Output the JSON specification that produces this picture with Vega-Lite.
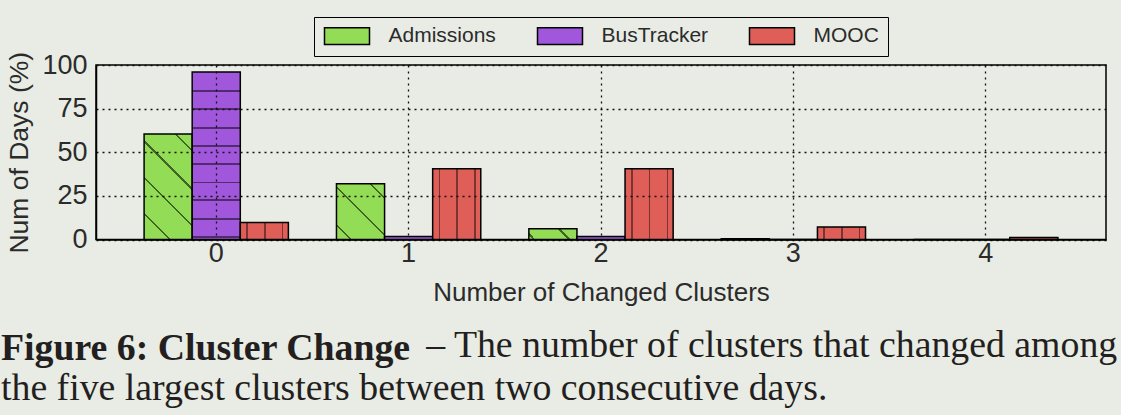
{
  "$schema": "https://vega.github.io/schema/vega-lite/v6.json",
  "width": 1010,
  "height": 174.5,
  "autosize": {"type": "none"},
  "padding": {"left": 96, "top": 65, "right": 15, "bottom": 175.5},
  "background": "#e8ece4",
  "config": {
    "view": {"stroke": "black", "strokeWidth": 1.5},
    "font": "Liberation Sans"
  },
  "title": {
    "text": "Figure 6: Cluster Change",
    "subtitle": ["\u200b\u00a0\u00a0\u00a0\u00a0\u00a0\u00a0\u00a0\u00a0\u00a0\u00a0\u00a0\u00a0\u00a0\u00a0\u00a0\u00a0\u00a0\u00a0\u00a0\u00a0\u00a0\u00a0\u00a0\u00a0\u00a0\u00a0\u00a0\u00a0\u00a0\u00a0\u00a0\u00a0\u00a0\u00a0\u00a0\u00a0\u00a0\u00a0\u00a0\u00a0\u00a0\u00a0\u00a0\u00a0\u00a0– The number of clusters that changed among", "the five largest clusters between two consecutive days."],
    "orient": "bottom",
    "anchor": "start",
    "frame": "group",
    "dx": -95,
    "offset": 24,
    "font": "Liberation Serif",
    "fontSize": 37.8,
    "fontWeight": "bold",
    "lineHeight": 40,
    "color": "#231f20",
    "subtitleFont": "Liberation Serif",
    "subtitleFontSize": 37.8,
    "subtitleFontWeight": "normal",
    "subtitleColor": "#231f20",
    "subtitleLineHeight": 43,
    "subtitlePadding": -40
  },
  "data": {
    "values": [
      {"clusters": "0", "dataset": "Admissions", "pct": 60.5},
      {"clusters": "0", "dataset": "BusTracker", "pct": 96},
      {"clusters": "0", "dataset": "MOOC", "pct": 9.7},
      {"clusters": "1", "dataset": "Admissions", "pct": 32},
      {"clusters": "1", "dataset": "BusTracker", "pct": 1.7},
      {"clusters": "1", "dataset": "MOOC", "pct": 40.6},
      {"clusters": "2", "dataset": "Admissions", "pct": 6.1},
      {"clusters": "2", "dataset": "BusTracker", "pct": 1.7},
      {"clusters": "2", "dataset": "MOOC", "pct": 40.6},
      {"clusters": "3", "dataset": "Admissions", "pct": 0.5},
      {"clusters": "3", "dataset": "BusTracker", "pct": 0},
      {"clusters": "3", "dataset": "MOOC", "pct": 7.2},
      {"clusters": "4", "dataset": "Admissions", "pct": 0},
      {"clusters": "4", "dataset": "BusTracker", "pct": 0},
      {"clusters": "4", "dataset": "MOOC", "pct": 1.2}
    ]
  },
  "encoding": {
    "x": {
      "field": "clusters",
      "type": "nominal",
      "title": "Number of Changed Clusters",
      "scale": {"domain": ["0", "1", "2", "3", "4"], "paddingInner": 0.25, "paddingOuter": 0.25},
      "axis": {
        "zindex": 1,
        "labelAngle": 0,
        "bandPosition": 0.5,
        "ticks": false,
        "domain": true,
        "domainColor": "black",
        "domainWidth": 1.5,
        "grid": true,
        "gridColor": "#111111",
        "gridDash": [2, 4],
        "gridWidth": 1.3,
        "labelFontSize": 27,
        "labelColor": "#2b2b2b",
        "labelPadding": 1,
        "titleFontSize": 26,
        "titleFontWeight": "normal",
        "titleColor": "#2b2b2b",
        "titlePadding": 13
      }
    },
    "xOffset": {
      "field": "dataset",
      "type": "nominal",
      "scale": {"domain": ["Admissions", "BusTracker", "MOOC"], "paddingInner": 0, "paddingOuter": 0}
    },
    "y": {
      "field": "pct",
      "type": "quantitative",
      "title": "Num of Days (%)",
      "scale": {"domain": [0, 100], "nice": false},
      "axis": {
        "zindex": 1,
        "values": [0, 25, 50, 75, 100],
        "ticks": false,
        "domain": true,
        "domainColor": "black",
        "domainWidth": 1.5,
        "grid": true,
        "gridColor": "#111111",
        "gridDash": [2, 4],
        "gridWidth": 1.3,
        "labelFontSize": 27,
        "labelColor": "#2b2b2b",
        "labelPadding": 9,
        "titleFontSize": 26.5,
        "titleFontWeight": "normal",
        "titleColor": "#2b2b2b",
        "titlePadding": 8
      }
    }
  },
  "layer": [
    {
      "mark": {"type": "bar", "stroke": "black", "strokeWidth": 1.5},
      "encoding": {
        "color": {
          "field": "dataset",
          "type": "nominal",
          "scale": {"domain": ["Admissions", "BusTracker", "MOOC"], "range": ["#93dc56", "#a057db", "#df5e58"]},
          "legend": {
            "orient": "none",
            "legendX": 218,
            "legendY": -48,
            "direction": "horizontal",
            "title": null,
            "symbolType": "M-1,-0.982H4.294V0.982H-1Z",
            "symbolSize": 289,
            "symbolStrokeColor": "black",
            "symbolStrokeWidth": 1.5,
            "symbolOpacity": 1,
            "labelFontSize": 21,
            "labelColor": "#2b2b2b",
            "labelOffset": 45,
            "columnPadding": 38,
            "padding": 8.5,
            "strokeColor": "black",
            "fillColor": "#e8ece4"
          }
        }
      }
    },
    {
      "transform": [{"filter": "datum.dataset == 'BusTracker' && datum.pct > 50"}],
      "mark": {
        "type": "bar",
        "strokeWidth": 0,
        "fill": {
          "gradient": "linear", "x1": 0, "y1": 0, "x2": 0, "y2": 1,
          "stops": [
            {"offset": 0, "color": "rgba(0,0,0,0)"},
            {"offset": 0.109, "color": "rgba(0,0,0,0)"}, {"offset": 0.109, "color": "rgba(0,0,0,0.5)"}, {"offset": 0.119, "color": "rgba(0,0,0,0.5)"}, {"offset": 0.119, "color": "rgba(0,0,0,0)"},
            {"offset": 0.218, "color": "rgba(0,0,0,0)"}, {"offset": 0.218, "color": "rgba(0,0,0,0.5)"}, {"offset": 0.228, "color": "rgba(0,0,0,0.5)"}, {"offset": 0.228, "color": "rgba(0,0,0,0)"},
            {"offset": 0.328, "color": "rgba(0,0,0,0)"}, {"offset": 0.328, "color": "rgba(0,0,0,0.5)"}, {"offset": 0.338, "color": "rgba(0,0,0,0.5)"}, {"offset": 0.338, "color": "rgba(0,0,0,0)"},
            {"offset": 0.436, "color": "rgba(0,0,0,0)"}, {"offset": 0.436, "color": "rgba(0,0,0,0.5)"}, {"offset": 0.446, "color": "rgba(0,0,0,0.5)"}, {"offset": 0.446, "color": "rgba(0,0,0,0)"},
            {"offset": 0.544, "color": "rgba(0,0,0,0)"}, {"offset": 0.544, "color": "rgba(0,0,0,0.5)"}, {"offset": 0.554, "color": "rgba(0,0,0,0.5)"}, {"offset": 0.554, "color": "rgba(0,0,0,0)"},
            {"offset": 0.654, "color": "rgba(0,0,0,0)"}, {"offset": 0.654, "color": "rgba(0,0,0,0.5)"}, {"offset": 0.664, "color": "rgba(0,0,0,0.5)"}, {"offset": 0.664, "color": "rgba(0,0,0,0)"},
            {"offset": 0.761, "color": "rgba(0,0,0,0)"}, {"offset": 0.761, "color": "rgba(0,0,0,0.5)"}, {"offset": 0.771, "color": "rgba(0,0,0,0.5)"}, {"offset": 0.771, "color": "rgba(0,0,0,0)"},
            {"offset": 0.871, "color": "rgba(0,0,0,0)"}, {"offset": 0.871, "color": "rgba(0,0,0,0.5)"}, {"offset": 0.881, "color": "rgba(0,0,0,0.5)"}, {"offset": 0.881, "color": "rgba(0,0,0,0)"},
            {"offset": 0.981, "color": "rgba(0,0,0,0)"}, {"offset": 0.981, "color": "rgba(0,0,0,0.5)"}, {"offset": 0.991, "color": "rgba(0,0,0,0.5)"}, {"offset": 0.991, "color": "rgba(0,0,0,0)"},
            {"offset": 1, "color": "rgba(0,0,0,0)"}
          ]
        }
      }
    },
    {
      "transform": [{"filter": "datum.dataset == 'MOOC' && datum.pct > 3"}],
      "mark": {
        "type": "bar",
        "strokeWidth": 0,
        "fill": {
          "gradient": "linear", "x1": 0, "y1": 0, "x2": 1, "y2": 0,
          "stops": [
            {"offset": 0, "color": "rgba(0,0,0,0)"},
            {"offset": 0.125, "color": "rgba(0,0,0,0)"}, {"offset": 0.125, "color": "rgba(0,0,0,0.45)"}, {"offset": 0.155, "color": "rgba(0,0,0,0.45)"}, {"offset": 0.155, "color": "rgba(0,0,0,0)"},
            {"offset": 0.495, "color": "rgba(0,0,0,0)"}, {"offset": 0.495, "color": "rgba(0,0,0,0.45)"}, {"offset": 0.525, "color": "rgba(0,0,0,0.45)"}, {"offset": 0.525, "color": "rgba(0,0,0,0)"},
            {"offset": 0.865, "color": "rgba(0,0,0,0)"}, {"offset": 0.865, "color": "rgba(0,0,0,0.45)"}, {"offset": 0.895, "color": "rgba(0,0,0,0.45)"}, {"offset": 0.895, "color": "rgba(0,0,0,0)"},
            {"offset": 1, "color": "rgba(0,0,0,0)"}
          ]
        }
      }
    },
    {
      "transform": [{"filter": "datum.dataset == 'Admissions' && datum.clusters == '0'"}],
      "mark": {
        "type": "bar",
        "strokeWidth": 0,
        "fill": {
          "gradient": "linear", "x1": 0, "y1": 1, "x2": 0.549, "y2": -0.205,
          "stops": [
            {"offset": 0, "color": "rgba(0,0,0,0)"},
            {"offset": 0.160, "color": "rgba(0,0,0,0)"}, {"offset": 0.160, "color": "rgba(0,0,0,0.55)"}, {"offset": 0.174, "color": "rgba(0,0,0,0.55)"}, {"offset": 0.174, "color": "rgba(0,0,0,0)"},
            {"offset": 0.394, "color": "rgba(0,0,0,0)"}, {"offset": 0.394, "color": "rgba(0,0,0,0.55)"}, {"offset": 0.408, "color": "rgba(0,0,0,0.55)"}, {"offset": 0.408, "color": "rgba(0,0,0,0)"},
            {"offset": 0.634, "color": "rgba(0,0,0,0)"}, {"offset": 0.634, "color": "rgba(0,0,0,0.55)"}, {"offset": 0.648, "color": "rgba(0,0,0,0.55)"}, {"offset": 0.648, "color": "rgba(0,0,0,0)"},
            {"offset": 0.882, "color": "rgba(0,0,0,0)"}, {"offset": 0.882, "color": "rgba(0,0,0,0.55)"}, {"offset": 0.896, "color": "rgba(0,0,0,0.55)"}, {"offset": 0.896, "color": "rgba(0,0,0,0)"},
            {"offset": 1, "color": "rgba(0,0,0,0)"}
          ]
        }
      }
    },
    {
      "transform": [{"filter": "datum.dataset == 'Admissions' && datum.clusters == '1'"}],
      "mark": {
        "type": "bar",
        "strokeWidth": 0,
        "fill": {
          "gradient": "linear", "x1": 0, "y1": 1, "x2": 0.921, "y2": -0.068,
          "stops": [
            {"offset": 0, "color": "rgba(0,0,0,0)"},
            {"offset": 0.126, "color": "rgba(0,0,0,0)"}, {"offset": 0.126, "color": "rgba(0,0,0,0.55)"}, {"offset": 0.146, "color": "rgba(0,0,0,0.55)"}, {"offset": 0.146, "color": "rgba(0,0,0,0)"},
            {"offset": 0.494, "color": "rgba(0,0,0,0)"}, {"offset": 0.494, "color": "rgba(0,0,0,0.55)"}, {"offset": 0.514, "color": "rgba(0,0,0,0.55)"}, {"offset": 0.514, "color": "rgba(0,0,0,0)"},
            {"offset": 0.854, "color": "rgba(0,0,0,0)"}, {"offset": 0.854, "color": "rgba(0,0,0,0.55)"}, {"offset": 0.874, "color": "rgba(0,0,0,0.55)"}, {"offset": 0.874, "color": "rgba(0,0,0,0)"},
            {"offset": 1, "color": "rgba(0,0,0,0)"}
          ]
        }
      }
    },
    {
      "transform": [{"filter": "datum.dataset == 'Admissions' && datum.clusters == '2'"}],
      "mark": {
        "type": "bar",
        "strokeWidth": 0,
        "fill": {
          "gradient": "linear", "x1": 0, "y1": 1, "x2": 1.164, "y2": 0.7435,
          "stops": [
            {"offset": 0, "color": "rgba(0,0,0,0)"},
            {"offset": 0.077, "color": "rgba(0,0,0,0)"}, {"offset": 0.077, "color": "rgba(0,0,0,0.55)"}, {"offset": 0.113, "color": "rgba(0,0,0,0.55)"}, {"offset": 0.113, "color": "rgba(0,0,0,0)"},
            {"offset": 0.674, "color": "rgba(0,0,0,0)"}, {"offset": 0.674, "color": "rgba(0,0,0,0.55)"}, {"offset": 0.710, "color": "rgba(0,0,0,0.55)"}, {"offset": 0.710, "color": "rgba(0,0,0,0)"},
            {"offset": 1, "color": "rgba(0,0,0,0)"}
          ]
        }
      }
    }
  ]
}
